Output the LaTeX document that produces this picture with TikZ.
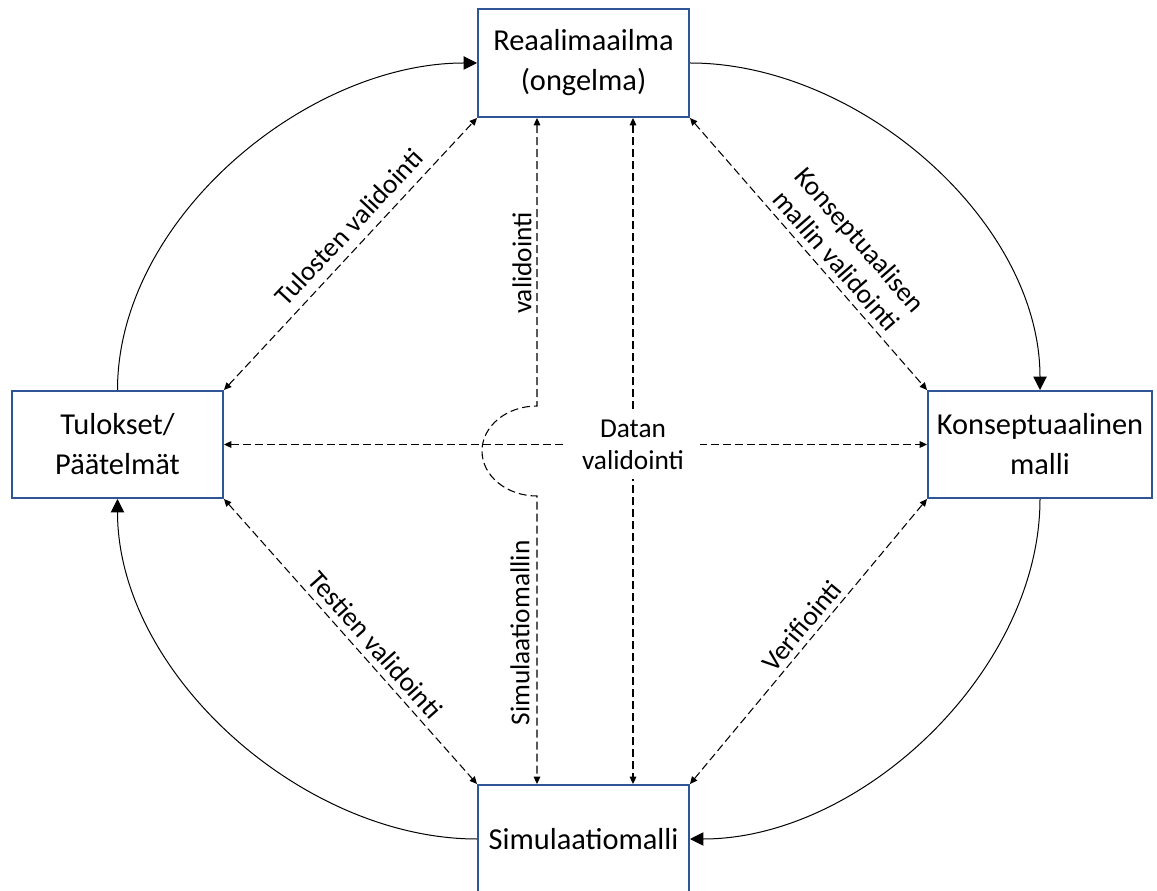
\documentclass[tikz,border=0pt]{standalone}
\usepackage{fontspec}
\setmainfont{Carlito}
\usetikzlibrary{arrows.meta,calc}
\definecolor{boxblue}{RGB}{47,85,151}
\begin{document}
\begin{tikzpicture}[x=0.75pt,y=0.75pt,
  box/.style={draw=boxblue,line width=1.5pt,fill=white,minimum width=158.25pt,minimum height=81pt,align=center,inner sep=0pt,font=\fontsize{22.8}{30}\selectfont},
  lbl/.style={font=\fontsize{20.5}{24}\selectfont,align=center,inner sep=2pt},
  flow/.style={line width=0.75pt,-{Triangle[length=10pt,width=10pt]}},
  dash2/.style={line width=0.8pt,dash pattern=on 6pt off 3pt,{Triangle[length=5.5pt,width=5pt]}-{Triangle[length=5.5pt,width=5pt]}}]
\useasboundingbox (0,0) rectangle (1157,890);
\node[box] (top) at (583.5,827) {Reaalimaailma\\(ongelma)};
\node[box,minimum height=80.25pt] (left) at (117.5,445.5) {Tulokset/\\Päätelmät};
\node[box,minimum width=168pt,minimum height=80.25pt] (right) at (1040,445.5) {Konseptuaalinen\\malli};
\node[box] (bot) at (583.5,51) {Simulaatiomalli};
% curved flow arrows
\draw[flow] (left.north) to[out=90,in=180,looseness=0.9] (top.west);
\draw[flow] (top.east) to[out=0,in=90,looseness=0.9] (right.north);
\draw[flow] (right.south) to[out=-90,in=0,looseness=0.9] (bot.east);
\draw[flow] (bot.west) to[out=180,in=-90,looseness=0.9] (left.south);
% diagonal dashed arrows
\draw[dash2] (left.north east) -- node[lbl,sloped,above=5pt,pos=0.55] (l1) {Tulosten validointi} (top.south west);
\draw[dash2] (top.south east) -- node[lbl,sloped,above=3pt,pos=0.565] (l2) {Konseptuaalisen\\mallin validointi} (right.north west);
\draw[dash2] (left.south east) -- node[lbl,sloped,above=3pt,pos=0.55] (l3) {Testien validointi} (bot.north west);
\draw[dash2] (bot.north east) -- node[lbl,sloped,above=2pt,pos=0.52] (l4) {Verifiointi} (right.south west);
% vertical and horizontal dashed arrows
\coordinate (jt) at (537,484);
\coordinate (vx) at (633,445);
\draw[dash2] (top.south -| jt) -- (jt) arc[start angle=90,end angle=270,x radius=55,y radius=45] -- (bot.north -| jt);
\draw[dash2] (top.south -| vx) -- (bot.north -| vx);
\draw[dash2] (left.east) -- (right.west);
\node[lbl,fill=white,inner xsep=12pt,inner ysep=7pt] (dv) at (vx) {Datan\\validointi};
\node[lbl,rotate=90] (lv) at (522,627) {validointi};
\node[lbl,rotate=90] (ls) at (520,257) {Simulaatiomallin};
\end{tikzpicture}
\end{document}
